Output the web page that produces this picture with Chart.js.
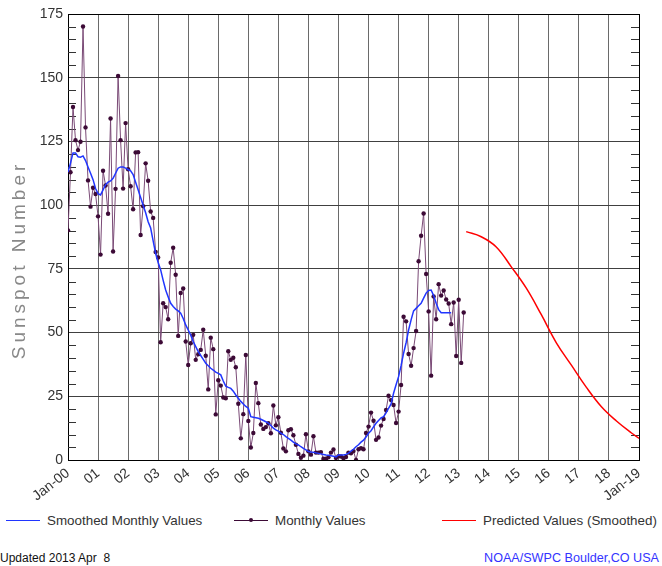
<!DOCTYPE html>
<html><head><meta charset="utf-8">
<script src="https://cdn.jsdelivr.net/npm/chart.js@4/dist/chart.umd.min.js"></script>
<style>
html,body{margin:0;padding:0;background:#fff;}
#wrap{position:relative;width:662px;height:566px;overflow:hidden;font-family:"Liberation Sans",Arial,sans-serif;background:#fff;}
#c{position:absolute;left:0;top:0;}
.leg{position:absolute;top:511px;height:18px;display:flex;align-items:center;font-size:13.4px;color:#333;white-space:nowrap;}
.leg .sw{position:relative;width:34px;height:0;margin-right:7px;}
.leg .dot{position:absolute;left:15px;top:-2.5px;width:4px;height:4px;border-radius:50%;}
.foot{position:absolute;top:551px;white-space:pre;}
</style></head>
<body><div id="wrap"><canvas id="c" width="662" height="505"></canvas></div>
<script>
// ---- data ----
const tickLabels = ['Jan-00','01','02','03','04','05','06','07','08','09','10','11','12','13','14','15','16','17','18','Jan-19'];
const yTitle = 'Sunspot Number';
const seriesNames = ['Smoothed Monthly Values','Monthly Values','Predicted Values (Smoothed)'];
const footLeft = 'Updated 2013 Apr  8';
const footRight = 'NOAA/SWPC Boulder,CO USA';

// monthly values from Jan 2000 (one row per year)
const monthlyValues = [
  90.1,112.9,138.5,125.5,121.6,124.9,170.1,130.5,109.7,99.4,106.8,104.4,
  95.6,80.6,113.5,107.7,96.6,134.0,81.8,106.4,150.7,125.5,106.5,132.2,
  114.1,107.4,98.4,120.7,120.8,88.3,99.6,116.4,109.6,97.5,95.0,81.6,
  79.5,46.2,61.5,60.0,55.2,77.4,83.3,72.7,48.7,65.5,67.3,46.5,
  37.3,45.8,49.1,39.3,41.5,43.2,51.1,40.9,27.7,48.0,43.5,17.9,
  31.3,29.2,24.5,24.2,42.7,39.3,40.1,36.4,22.1,8.5,18.0,41.2,
  15.3,4.9,10.6,30.2,22.3,13.9,12.2,12.9,14.4,10.5,21.4,13.6,
  16.8,10.7,4.5,3.4,11.7,12.1,9.7,6.0,2.4,0.9,1.7,10.1,
  3.4,2.1,9.3,2.9,2.9,3.1,0.5,0.5,1.1,2.9,4.1,0.8,
  1.5,1.4,0.7,1.2,2.9,2.6,3.5,0.0,4.2,4.6,4.2,10.6,
  13.1,18.6,15.4,7.9,8.8,13.5,16.1,19.6,25.2,23.5,21.6,14.5,
  19.0,29.4,56.2,54.4,41.6,37.0,43.9,50.6,78.0,88.0,96.7,73.0,
  58.3,33.1,64.2,55.2,69.0,64.5,66.5,63.0,61.4,53.3,61.8,40.8,
  62.9,38.1,57.9
];
// smoothed monthly values from Jan 2000
const smoothedValues = [
  113,116.5,120.5,120.5,119,118.8,119.3,117.5,115,112.5,110,106.5,
  104.5,104,106,108,109,109.5,110.5,112.5,114.5,115,115,114.5,
  114,113.5,112,109,106,103,100,97,93.5,91,86,81,
  77.5,74.6,70.5,66.7,64,61.5,60.2,59.2,58.5,57.6,55.5,53,
  51,49,46.5,44.5,42.5,41,39.5,38,37,36,35.3,34.5,
  34,33.4,31,29,28.5,28.1,27,25.5,24.2,23,22,21,
  20.3,17,16.8,16.6,16.4,16,15.5,15,14.5,13.5,12.5,11.8,
  11.3,10.5,10,9.2,8.5,7.8,7,6.3,5.9,5.2,4.6,4,
  3.3,3.1,3,2.8,2.6,2.4,2.2,2,1.9,1.7,1.5,1.2,
  2,2,2,2.2,2.7,3.5,4.2,5.2,6,7,7.8,9,
  10.5,11.5,13,14.4,15.5,16.5,17,18.5,20.3,22,26.2,29.5,
  32.7,37,41.9,46,51,55,58.5,59.5,60.5,61.5,63.5,65.5,
  66.5,66.7,64.5,61.5,59,57.8,57.8,57.8,57.8,57.8
];
// predicted (smoothed): months since Jan 2000 and values
const predictedMonths = [159,165,171,177,183,189,195,201,207,213,219,225,228];
const predictedValues = [89.6,87.6,83.6,75.8,67.4,57.0,46.0,37.2,28.5,20.9,15.3,10.6,8.5];

// ---- chart ----
const FONT = '"Liberation Sans", Arial, sans-serif';
const toPts = (vals) => vals.map((v, i) => ({x: i, y: v}));

const minorTicks = {
  id: 'minorTicks',
  beforeDatasetsDraw(chart) {
    const y = chart.scales.y, a = chart.chartArea, ctx = chart.ctx;
    ctx.save();
    ctx.strokeStyle = '#333';
    ctx.lineWidth = 1;
    ctx.beginPath();
    for (let v = 5; v < 175; v += 5) {
      if (v % 25 === 0) continue;
      const py = Math.round(y.getPixelForValue(v)) + 0.5;
      ctx.moveTo(a.left, py); ctx.lineTo(a.left + 8, py);
      ctx.moveTo(a.right - 8, py); ctx.lineTo(a.right, py);
    }
    ctx.stroke();
    ctx.restore();
  }
};
const yTitlePlugin = {
  id: 'yTitlePlugin',
  afterDraw(chart) {
    const ctx = chart.ctx;
    ctx.save();
    ctx.translate(20, 262);
    ctx.rotate(-Math.PI / 2);
    ctx.font = '19px ' + FONT;
    ctx.fillStyle = '#888';
    ctx.textAlign = 'center';
    ctx.textBaseline = 'middle';
    try { ctx.letterSpacing = '4px'; } catch (e) {}
    ctx.fillText(yTitle, 2, 0);
    ctx.restore();
  }
};

const chart = new Chart(document.getElementById('c'), {
  type: 'line',
  data: {
    datasets: [
      { label: seriesNames[0], data: toPts(smoothedValues), borderColor: '#2035ff', borderWidth: 1.5, pointRadius: 0, tension: 0 },
      { label: seriesNames[1], data: toPts(monthlyValues), borderColor: '#7a4a76', borderWidth: 1, pointRadius: 2.2, pointBackgroundColor: '#3c0a36', pointBorderWidth: 0, tension: 0 },
      { label: seriesNames[2], data: predictedMonths.map((m, i) => ({x: m, y: predictedValues[i]})), borderColor: '#ff0000', borderWidth: 1.5, pointRadius: 0, tension: 0.4 }
    ]
  },
  options: {
    responsive: false, animation: false, devicePixelRatio: 1,
    layout: { padding: { left: 0, right: 23, top: 14, bottom: 0 } },
    plugins: { legend: { display: false }, tooltip: { enabled: false } },
    scales: {
      x: {
        type: 'linear', min: 0, max: 228,
        afterBuildTicks: (s) => { s.ticks = tickLabels.map((l, i) => ({ value: i * 12 })); },
        afterFit: (s) => { s.height = 45; s.paddingLeft = 0; s.paddingRight = 0; },
        ticks: {
          autoSkip: false, minRotation: 38, maxRotation: 38, padding: 5,
          color: '#333', font: { family: FONT, size: 14 },
          callback: (v) => tickLabels[Math.round(v / 12)]
        },
        grid: { drawTicks: false, color: (c) => (c.tick && c.tick.value === 228) ? '#000' : '#6a6a6a', lineWidth: 1 },
        border: { color: '#000', width: 1 }
      },
      y: {
        min: 0, max: 175,
        afterBuildTicks: (s) => { const t = []; for (let v = 0; v <= 175; v += 25) t.push({ value: v }); s.ticks = t; },
        afterFit: (s) => { s.width = 68; s.paddingTop = 0; s.paddingBottom = 0; },
        ticks: { padding: 5, color: '#333', font: { family: FONT, size: 14 } },
        grid: { drawTicks: false, color: (c) => (c.tick && c.tick.value === 175) ? '#000' : '#404040', lineWidth: 1 },
        border: { color: '#000', width: 1 }
      }
    }
  },
  plugins: [minorTicks, yTitlePlugin]
});

// ---- HTML legend & footer ----
const wrap = document.getElementById('wrap');
const legendLeft = [6, 234, 442];
chart.data.datasets.forEach((ds, i) => {
  const item = document.createElement('div');
  item.className = 'leg';
  item.style.left = legendLeft[i] + 'px';
  const sw = document.createElement('span');
  sw.className = 'sw';
  sw.style.borderTop = '1.5px solid ' + (ds.pointRadius ? ds.pointBackgroundColor : ds.borderColor);
  if (ds.pointRadius) {
    const d = document.createElement('span');
    d.className = 'dot';
    d.style.background = ds.pointBackgroundColor;
    sw.appendChild(d);
  }
  item.appendChild(sw);
  item.appendChild(document.createTextNode(ds.label));
  wrap.appendChild(item);
});
const fl = document.createElement('div');
fl.className = 'foot'; fl.style.left = '0px'; fl.style.fontSize = '12px'; fl.style.color = '#111';
fl.textContent = footLeft; wrap.appendChild(fl);
const fr = document.createElement('div');
fr.className = 'foot'; fr.style.right = '3px'; fr.style.fontSize = '12.6px'; fr.style.color = '#3333ff';
fr.textContent = footRight; wrap.appendChild(fr);
</script>
</body></html>
